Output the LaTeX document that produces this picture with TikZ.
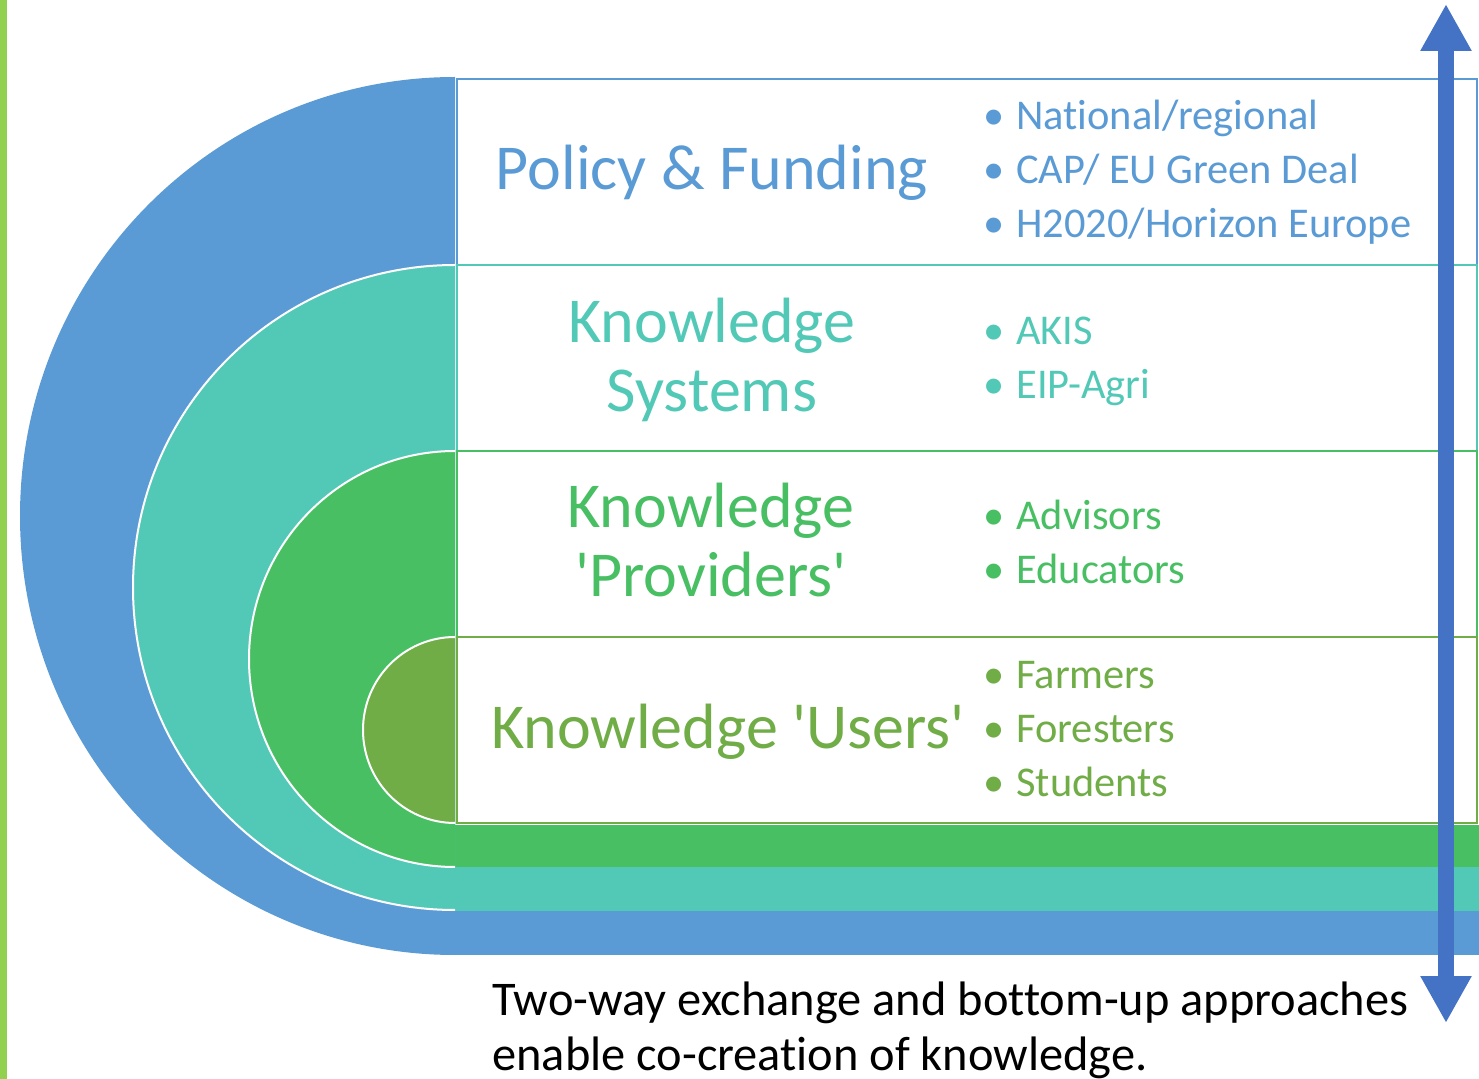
\documentclass[tikz,border=0pt]{standalone}
\usepackage{fontspec}
\setmainfont{Carlito}[Ligatures={NoCommon}]
\usepackage{tikz}
\usetikzlibrary{arrows.meta}

\definecolor{policyblue}{RGB}{91,155,213}
\definecolor{systemteal}{RGB}{82,201,182}
\definecolor{providergreen}{RGB}{72,191,99}
\definecolor{userolive}{RGB}{112,173,71}
\definecolor{arrowblue}{RGB}{68,114,196}
\definecolor{edgegreen}{RGB}{146,208,80}
\newcommand{\itm}[1]{\makebox[16.5pt][l]{\textbullet}#1}
\newcommand{\q}{\textquotesingle}

\begin{document}
\begin{tikzpicture}[x=0.5pt,y=0.5pt,yscale=-1,xscale=1,
  title/.style={anchor=base,inner sep=0pt,align=center,font=\fontsize{32}{34.5}\selectfont},
  items/.style={anchor=base west,inner sep=0pt,align=left,font=\fontsize{21.2}{27}\selectfont}]
\useasboundingbox (0,0) rectangle (1479,1079);

%Shape: left edge line
\fill [edgegreen] (0,0) rectangle (7,1079);

%Shape: outer half disc
\fill [policyblue] (455,77) arc[start angle=270,end angle=90,x radius=435,y radius=439] -- cycle;
%Shape: bottom bands
\fill [policyblue] (455,911) rectangle (1479,955);
\fill [systemteal] (455,867) rectangle (1479,911);
\fill [providergreen] (455,825) rectangle (1479,867);
%Shape: inner half discs
\filldraw [fill=systemteal, draw=white, line width=1pt] (455,265) arc[start angle=270,end angle=90,x radius=322,y radius=322.5];
\filldraw [fill=providergreen, draw=white, line width=1pt] (455,451) arc[start angle=270,end angle=90,x radius=206,y radius=208];
\filldraw [fill=userolive, draw=white, line width=1pt] (455,637) arc[start angle=270,end angle=90,x radius=92,y radius=93];

%Shape: level boxes
\filldraw [fill=white, draw=policyblue, line width=0.75pt] (457,79) rectangle (1477,265);
\filldraw [fill=white, draw=systemteal, line width=0.75pt] (457,265) rectangle (1477,451);
\filldraw [fill=white, draw=providergreen, line width=0.75pt] (457,451) rectangle (1477,637);
\filldraw [fill=white, draw=userolive, line width=0.75pt] (457,637) rectangle (1477,823);

% Text Node (base = last line)
\node (policy) [title, text=policyblue] at (712,190) {Policy \& Funding};
% Text Node
\node (systems) [title, text=systemteal] at (712,412) {Knowledge\\Systems};
% Text Node
\node (providers) [title, text=providergreen] at (711,597) {Knowledge\\\q Providers\q};
% Text Node
\node (users) [title, text=userolive] at (728,749) {Knowledge \q Users\q};

% Text Node
\node (policyitems) [items, text=policyblue] at (983,238) {\itm{National/regional}\\\itm{CAP/ EU Green Deal}\\\itm{H2020/Horizon Europe}};
% Text Node
\node (systemitems) [items, text=systemteal] at (983,399) {\itm{AKIS}\\\itm{EIP-Agri}};
% Text Node
\node (provideritems) [items, text=providergreen] at (983,584) {\itm{Advisors}\\\itm{Educators}};
% Text Node
\node (useritems) [items, text=userolive] at (983,797) {\itm{Farmers}\\\itm{Foresters}\\\itm{Students}};

% Text Node
\node (caption) [anchor=base west, inner sep=0pt, align=left, font=\fontsize{24.2}{27.5}\selectfont] at (492,1070) {Two-way exchange and bottom-up approaches\\enable co-creation of knowledge.};

%Straight Lines: two-way arrow
\coordinate (arrowtop) at (1446,4);
\coordinate (arrowbottom) at (1446,1023);
\draw [arrowblue, line width=8pt, {Triangle[width=24pt,length=23.5pt]}-{Triangle[width=24pt,length=23.5pt]}] (arrowtop) -- (arrowbottom);

\end{tikzpicture}
\end{document}
